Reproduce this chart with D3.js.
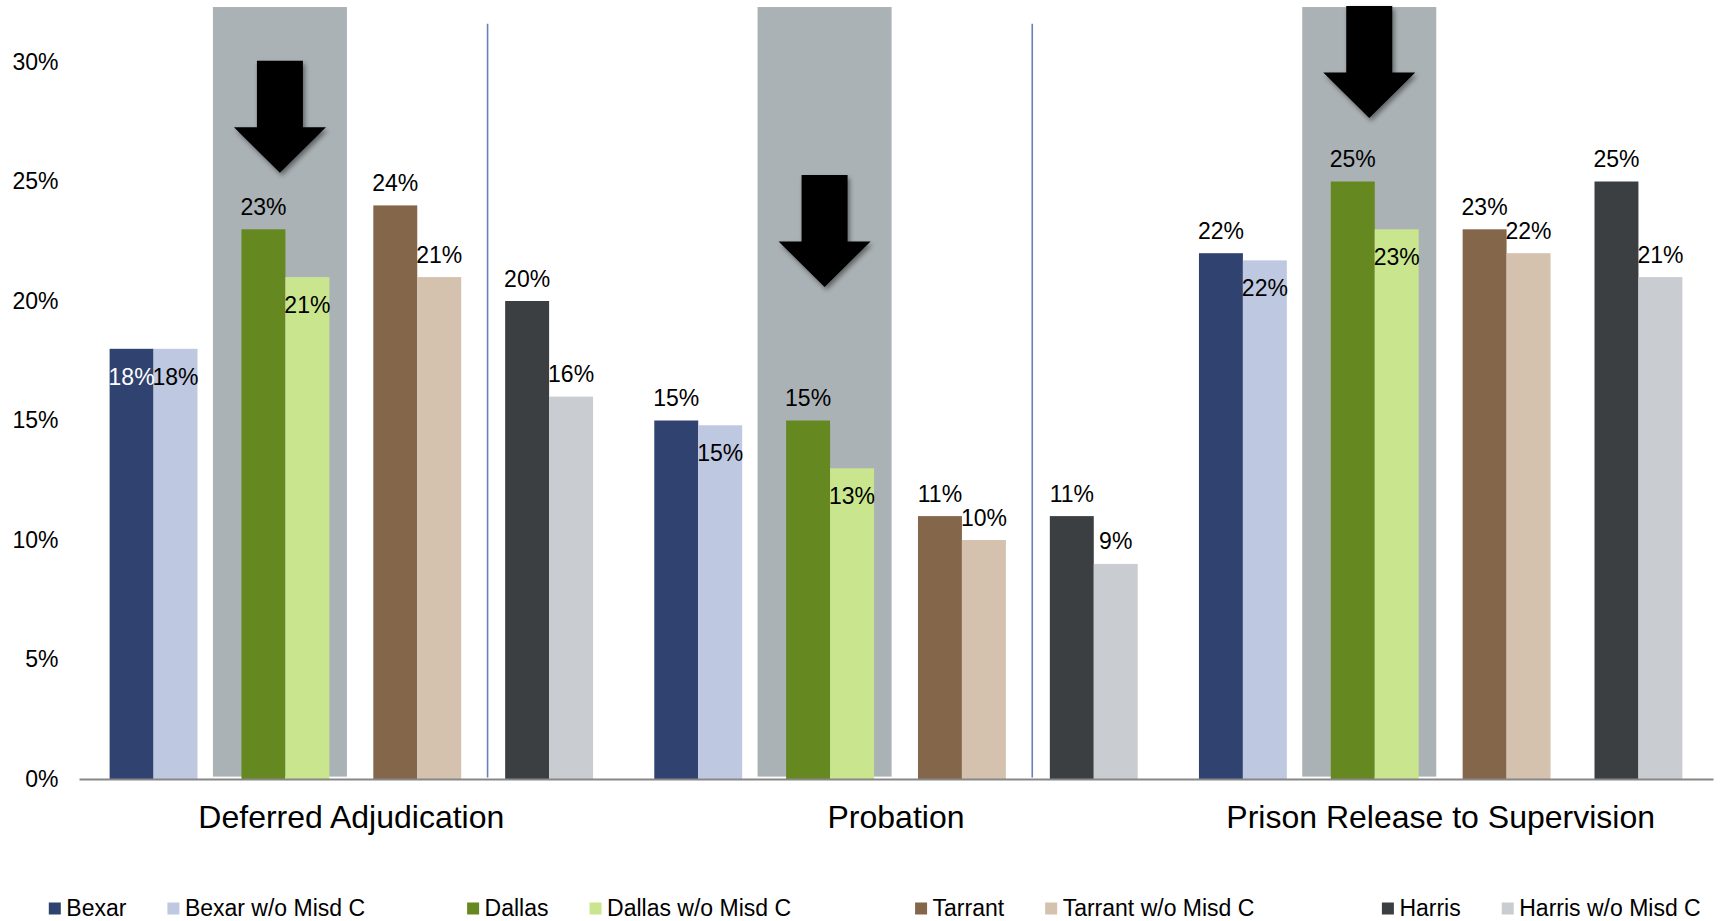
<!DOCTYPE html>
<html>
<head>
<meta charset="utf-8">
<script src="https://cdn.jsdelivr.net/npm/d3@7"></script>
<style>
  html, body { margin: 0; padding: 0; background: #ffffff; }
  svg { display: block; font-family: "Liberation Sans", Arial, sans-serif; }
</style>
</head>
<body>
<svg id="chart" width="1723" height="921"></svg>
<script>
// Supervision categories on the x axis
const categories = ["Deferred Adjudication", "Probation", "Prison Release to Supervision"];

// County series (share of cases), one value per category
const bexar          = [0.18, 0.15, 0.22];
const bexarNoMisdC   = [0.18, 0.148, 0.217];
const dallas         = [0.23, 0.15, 0.25];
const dallasNoMisdC  = [0.21, 0.13, 0.23];
const tarrant        = [0.24, 0.11, 0.23];
const tarrantNoMisdC = [0.21, 0.10, 0.22];
const harris         = [0.20, 0.11, 0.25];
const harrisNoMisdC  = [0.16, 0.09, 0.21];

const seriesNames = ["Bexar", "Bexar w/o Misd C", "Dallas", "Dallas w/o Misd C",
                     "Tarrant", "Tarrant w/o Misd C", "Harris", "Harris w/o Misd C"];
const seriesColors = ["#30426f", "#bec8e1", "#658820", "#c9e68f",
                      "#84674a", "#d4c1ae", "#3b3f42", "#c9ccd0"];

// Where each data label sits: above the bar end ("out") or just inside it ("in")
const bexarLabelPos          = ["in", "out", "out"];
const bexarNoMisdCLabelPos   = ["in", "in", "in"];
const dallasLabelPos         = ["out", "out", "out"];
const dallasNoMisdCLabelPos  = ["in", "in", "in"];
const tarrantLabelPos        = ["out", "out", "out"];
const tarrantNoMisdCLabelPos = ["out", "out", "out"];
const harrisLabelPos         = ["out", "out", "out"];
const harrisNoMisdCLabelPos  = ["out", "out", "out"];

// Y axis ticks
const yTicks = [0, 0.05, 0.10, 0.15, 0.20, 0.25, 0.30];

// Highlighted Dallas columns and the arrows pointing at them (tip value per category)
const arrowTips = [0.2537, 0.2059, 0.2766];
const highlightTop = 0.323;
const highlightBottom = 0.001;
// Separator lines drawn between Tarrant and Harris for these categories
const dividerCategories = ["Deferred Adjudication", "Probation"];
const dividerTop = 0.316;

const seriesValues = [bexar, bexarNoMisdC, dallas, dallasNoMisdC,
                      tarrant, tarrantNoMisdC, harris, harrisNoMisdC];
const seriesLabelPos = [bexarLabelPos, bexarNoMisdCLabelPos, dallasLabelPos, dallasNoMisdCLabelPos,
                        tarrantLabelPos, tarrantNoMisdCLabelPos, harrisLabelPos, harrisNoMisdCLabelPos];

// Slot order inside each category: county pairs separated by an empty slot
const slots = ["Bexar", "Bexar w/o Misd C", "gap1", "Dallas", "Dallas w/o Misd C", "gap2",
               "Tarrant", "Tarrant w/o Misd C", "gap3", "Harris", "Harris w/o Misd C"];

const svg = d3.select("#chart");
const plotLeft = 79, plotRight = 1713, baseY = 779, topY = 62;

const x0 = d3.scaleBand().domain(categories).range([plotLeft, plotRight])
  .paddingInner(0.1124).paddingOuter(0.0562);
const x1 = d3.scaleBand().domain(slots).range([0, x0.bandwidth()]).padding(0);
const y = d3.scaleLinear().domain([0, 0.30]).range([baseY, topY]);
const bw = x1.bandwidth();
const color = d3.scaleOrdinal().domain(seriesNames).range(seriesColors);
const pct = d3.format(".0%");

// Flattened records for bars and labels
const records = [];
seriesNames.forEach((name, si) => {
  categories.forEach((cat, ci) => {
    records.push({ name, cat, value: seriesValues[si][ci], pos: seriesLabelPos[si][ci], dark: si % 2 === 0 });
  });
});

const defs = svg.append("defs");
const shadow = defs.append("filter").attr("id", "arrowShadow")
  .attr("x", "-30%").attr("y", "-30%").attr("width", "160%").attr("height", "160%");
shadow.append("feDropShadow").attr("dx", 2).attr("dy", 3).attr("stdDeviation", 2.5)
  .attr("flood-color", "#000").attr("flood-opacity", 0.45);

// Grey highlight columns behind the Dallas bars
svg.append("g").selectAll("rect").data(categories).join("rect")
  .attr("x", c => x0(c) + x1("Dallas") - 0.65 * bw)
  .attr("width", 3.05 * bw)
  .attr("y", y(highlightTop))
  .attr("height", y(highlightBottom) - y(highlightTop))
  .attr("fill", "#abb2b5");

// Blue separators
svg.append("g").selectAll("line").data(dividerCategories).join("line")
  .attr("x1", c => x0(c) + x1("gap3") + 0.6 * bw)
  .attr("x2", c => x0(c) + x1("gap3") + 0.6 * bw)
  .attr("y1", y(dividerTop)).attr("y2", y(highlightBottom) + 1)
  .attr("stroke", "#6a7fbf").attr("stroke-width", 1.6);

// Bars
svg.append("g").selectAll("rect").data(records).join("rect")
  .attr("x", d => x0(d.cat) + x1(d.name))
  .attr("width", bw)
  .attr("y", d => y(d.value))
  .attr("height", d => y(0) - y(d.value))
  .attr("fill", d => color(d.name));

// Y axis (labels only)
const yAxis = svg.append("g").attr("transform", `translate(${plotLeft},0)`)
  .call(d3.axisLeft(y).tickValues(yTicks).tickFormat(pct).tickSize(0).tickPadding(20.5));
yAxis.select(".domain").remove();
yAxis.selectAll("text").attr("font-size", 23).attr("fill", "#000")
  .attr("font-family", "'Liberation Sans', Arial, sans-serif");

// X axis
const xAxis = svg.append("g").attr("transform", `translate(0,${baseY})`)
  .call(d3.axisBottom(x0).tickSize(0).tickPadding(26));
xAxis.select(".domain").attr("stroke", "#878787").attr("stroke-width", 2);
xAxis.selectAll("text").attr("font-size", 32).attr("fill", "#000")
  .attr("font-family", "'Liberation Sans', Arial, sans-serif");

// Data labels
svg.append("g").selectAll("text").data(records).join("text")
  .attr("x", d => x0(d.cat) + x1(d.name) + bw / 2)
  .attr("y", d => d.pos === "out" ? y(d.value) - 14.5 : y(d.value) + 36)
  .attr("text-anchor", "middle")
  .attr("font-size", 23)
  .attr("fill", d => (d.pos === "in" && d.dark) ? "#ffffff" : "#000000")
  .text(d => pct(d.value));

// Down arrows above the highlighted Dallas columns
const arrowH = 112, headH = 45.5, shaftW = 46, headW = 92;
svg.append("g").selectAll("path").data(categories).join("path")
  .attr("filter", "url(#arrowShadow)")
  .attr("fill", "#000")
  .attr("d", (c, i) => {
    const cx = x0(c) + x1("Dallas") - 0.65 * bw + 3.05 * bw / 2;
    const tip = y(arrowTips[i]);
    const top = tip - arrowH, base = tip - headH;
    return `M${cx - shaftW / 2},${top} L${cx + shaftW / 2},${top} L${cx + shaftW / 2},${base}` +
           ` L${cx + headW / 2},${base} L${cx},${tip} L${cx - headW / 2},${base}` +
           ` L${cx - shaftW / 2},${base} Z`;
  });

// Legend: county pairs with an empty entry between pairs
const legendY = 915.5, legendStart = 48.8, swatch = 12, swatchGap = 17.5, entryGap = 41;
const blankWidths = [61, 83, 86.5];
const legend = svg.append("g");
let lx = legendStart;
seriesNames.forEach((name, i) => {
  const g = legend.append("g");
  g.append("rect").attr("x", lx).attr("y", legendY - 13).attr("width", swatch).attr("height", swatch)
    .attr("fill", color(name));
  const t = g.append("text").attr("x", lx + swatchGap).attr("y", legendY)
    .attr("font-size", 23).attr("fill", "#000").text(name);
  lx += swatchGap + t.node().getComputedTextLength() + entryGap;
  if (i % 2 === 1 && i < seriesNames.length - 1) lx += blankWidths[(i - 1) / 2];
});
</script>
</body>
</html>
